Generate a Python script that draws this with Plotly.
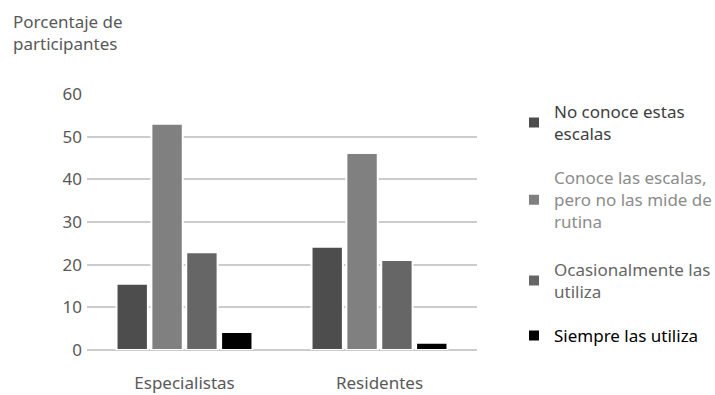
import plotly.graph_objects as go

categories = ["Especialistas", "Residentes"]
series_names = [
    "No conoce estas<br>escalas",
    "Conoce las escalas,<br>pero no las mide de<br>rutina",
    "Ocasionalmente las<br>utiliza",
    "Siempre las utiliza",
]
series_values = [
    [15.5, 24.2],
    [53.0, 46.2],
    [22.9, 21.1],
    [4.2, 1.7],
]
bar_colors = ["#4d4d4d", "#808080", "#666666", "#000000"]
legend_text_colors = ["#404040", "#8c8c8c", "#666666", "#000000"]
legend_y = [1 - 123 / 395, 1 - 200 / 395, 1 - 281 / 395, 1 - 336 / 395]
y_ticks = [0, 10, 20, 30, 40, 50, 60]

FONT = "Noto Sans"
fig = go.Figure()
legend_ids = ["legend", "legend2", "legend3", "legend4"]
for i, (name, vals) in enumerate(zip(series_names, series_values)):
    fig.add_trace(go.Bar(
        x=categories, y=vals,
        name=f"<span style='color:{legend_text_colors[i]}'>{name}</span>",
        marker=dict(color=bar_colors[i], line=dict(color="white", width=2)),
        legend=legend_ids[i],
    ))

legend_common = dict(x=514 / 715, xanchor="left", yanchor="middle", xref="container", yref="container",
                     itemwidth=30, font=dict(family=FONT, size=17), bgcolor="rgba(0,0,0,0)",
                     valign="middle")
layout_legends = {lid: dict(legend_common, y=legend_y[i]) for i, lid in enumerate(legend_ids)}

fig.update_layout(
    width=715, height=395,
    margin=dict(l=87, r=238, t=94, b=45, autoexpand=False),
    paper_bgcolor="white", plot_bgcolor="white",
    font=dict(family=FONT, size=17, color="#595959"),
    barmode="group", bargap=0.285, bargroupgap=0.1,
    showlegend=True,
    xaxis=dict(showgrid=False, showline=False, ticks="", automargin=False,
               tickfont=dict(size=17, color="#595959"), ticklabelstandoff=21),
    yaxis=dict(range=[0, 60], tickvals=y_ticks, showgrid=True, gridcolor="#cccccc", gridwidth=2,
               zeroline=True, zerolinecolor="#cccccc", zerolinewidth=2, showline=False, automargin=False,
               tickfont=dict(size=17, color="#595959"), ticklabelstandoff=4),
    annotations=[dict(
        text="Porcentaje de<br>participantes", xref="paper", yref="paper",
        x=-76/390, y=1 + 94/256 - 8/256, xanchor="left", yanchor="top",
        showarrow=False, align="left", font=dict(size=17, color="#595959"),
    )],
    **layout_legends,
)

fig.write_html("out.html")
